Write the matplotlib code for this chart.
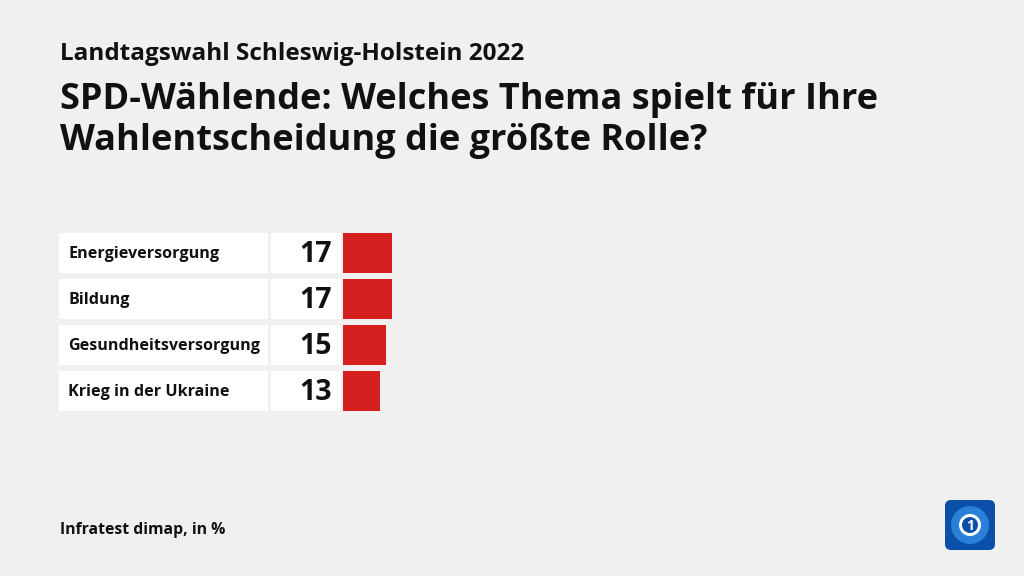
import matplotlib
matplotlib.use("Agg")
import matplotlib.pyplot as plt
from matplotlib.patches import FancyBboxPatch, Circle

# data
topics = ["Energieversorgung", "Bildung", "Gesundheitsversorgung", "Krieg in der Ukraine"]
values = [17, 17, 15, 13]

supertitle = "Landtagswahl Schleswig-Holstein 2022"
title = "SPD-Wählende: Welches Thema spielt für Ihre\nWahlentscheidung die größte Rolle?"
source = "Infratest dimap, in %"

bg = "#f0f0f0"
red = "#d62020"
plt.rcParams['font.family'] = ['Open Sans', 'DejaVu Sans']

fig = plt.figure(figsize=(10.24, 5.76), dpi=100, facecolor=bg)
ax = fig.add_axes([0, 0, 1, 1])
ax.set_xlim(0, 1024)
ax.set_ylim(576, 0)
ax.axis('off')
ax.set_facecolor(bg)

row_top = 233
row_h = 40
row_gap = 46
px_per_unit = 2.88
ys = [row_top + row_h / 2 + i * row_gap for i in range(len(topics))]

# label boxes, value boxes, bars
ax.barh(ys, [209] * len(topics), left=59, height=row_h, color="white")
ax.barh(ys, [70] * len(topics), left=271, height=row_h, color="white")
ax.barh(ys, [v * px_per_unit for v in values], left=343, height=row_h, color=red)

for y, t, v in zip(ys, topics, values):
    ax.text(68, y + 1, t, fontsize=11.6, fontweight='bold', va='center', ha='left', color="#111111")
    ax.text(332, y + 1, str(v), fontsize=20.5, fontweight='bold', va='center', ha='right', color="#111111")

ax.text(60, 60, supertitle, fontsize=17.5, fontweight='bold', va='baseline', color="#111111")
ax.text(60, 150, title, fontsize=26, fontweight='bold', va='baseline', color="#111111",
        linespacing=1.2)
ax.text(60, 534, source, fontsize=11.3, fontweight='bold', va='baseline', color="#111111")

# logo
logo = FancyBboxPatch((945, 500), 50, 50, boxstyle="round,pad=0,rounding_size=6",
                      facecolor="#0a4fa8", edgecolor="none")
ax.add_patch(logo)
ax.add_patch(Circle((970, 525), 19, facecolor="#2a7fd8", edgecolor="none"))
ax.add_patch(Circle((970, 525), 11, facecolor="white", edgecolor="none"))
ax.add_patch(Circle((970, 525), 8, facecolor="#0a4fa8", edgecolor="none"))
ax.text(970, 526, "1", fontsize=10, fontweight='bold', color="white", ha='center', va='center')

fig.savefig("out.png", dpi=100, facecolor=bg)
